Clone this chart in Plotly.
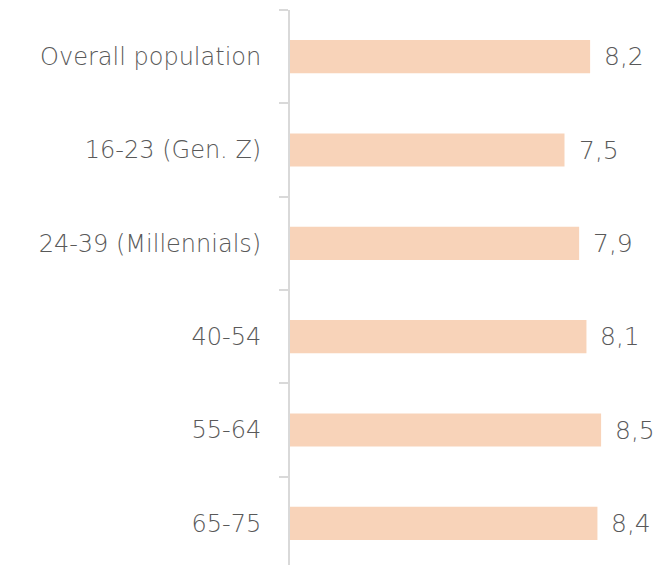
import plotly.graph_objects as go

categories = ["Overall population", "16-23 (Gen. Z)", "24-39 (Millennials)",
              "40-54", "55-64", "65-75"]
scores = [8.2, 7.5, 7.9, 8.1, 8.5, 8.4]
value_labels = ["8,2", "7,5", "7,9", "8,1", "8,5", "8,4"]

BAR_COLOR = "#F8D3B9"
TEXT_COLOR = "#595959"
AXIS_COLOR = "#D9D9D9"
FONT = "DejaVu Sans"

fig = go.Figure(
    go.Bar(
        y=categories,
        x=scores,
        orientation="h",
        width=0.355,
        marker=dict(color=BAR_COLOR, line=dict(width=0)),
        hoverinfo="skip",
    )
)

# value labels just right of each bar end
for cat, val, lab in zip(categories, scores, value_labels):
    fig.add_annotation(
        x=val, y=cat, text=lab, showarrow=False,
        xanchor="left", yanchor="middle", xshift=12,
        font=dict(family=FONT, size=25, color=TEXT_COLOR, weight=200),
    )

fig.update_layout(
    width=664, height=565,
    margin=dict(l=290, r=8, t=10, b=0),
    paper_bgcolor="white", plot_bgcolor="white",
    showlegend=False,
    font=dict(family=FONT, size=24, color=TEXT_COLOR, weight=200),
    xaxis=dict(range=[0, 10], visible=False, showgrid=False, zeroline=False),
    yaxis=dict(
        type="category",
        range=[5.446, -0.5],
        showline=True, linecolor=AXIS_COLOR, linewidth=2,
        ticks="outside", tickson="boundaries", ticklen=9,
        tickcolor=AXIS_COLOR, tickwidth=2,
        ticklabelstandoff=22,
        showgrid=False, zeroline=False,
        tickfont=dict(family=FONT, size=24, color=TEXT_COLOR, weight=200),
    ),
)

fig.write_html("out.html")
